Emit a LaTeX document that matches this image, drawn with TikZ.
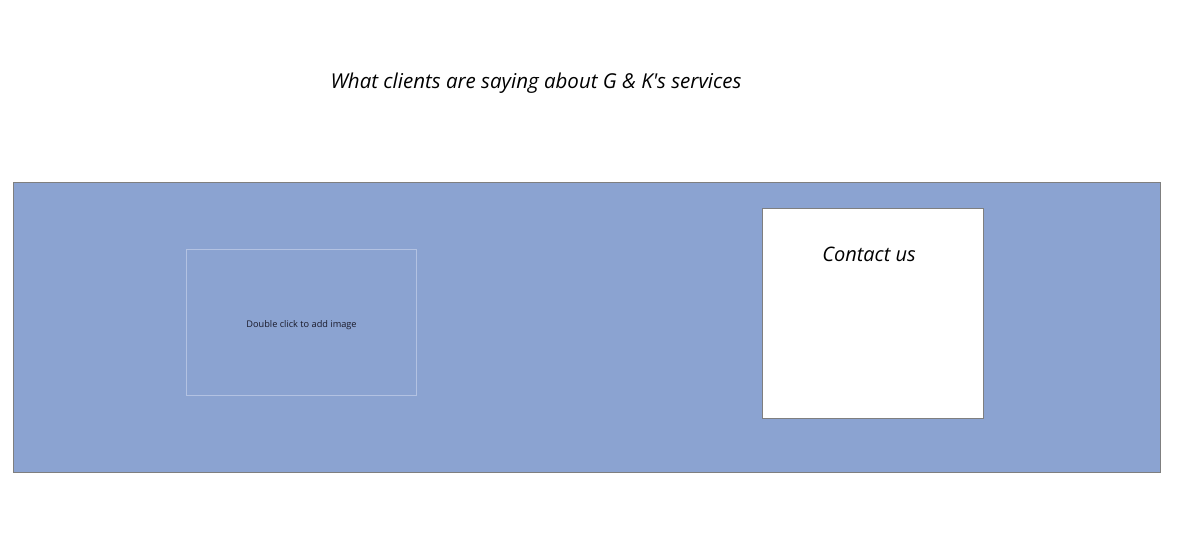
\documentclass[tikz,border=0pt]{standalone}
\usepackage{fontspec}
\newfontfamily\handfont{Open Sans}
\newfontfamily\uifont{Open Sans}
\definecolor{bandblue}{HTML}{8BA3D1}
\definecolor{edgegray}{HTML}{7F7F7F}
\definecolor{placeedge}{HTML}{B3C2E2}
\definecolor{uitext}{HTML}{1A1A2A}
\begin{document}
\begin{tikzpicture}[x=1pt,y=-1pt,
  band/.style={draw=edgegray,fill=bandblue,line width=0.6pt},
  placeholder/.style={draw=placeedge,line width=0.6pt},
  card/.style={draw=edgegray,fill=white,line width=0.6pt},
  hand/.style={font=\handfont\itshape,text=black,inner sep=0pt},
  ui/.style={font=\uifont\fontsize{9.2}{11}\selectfont,text=uitext,inner sep=0pt}]
\useasboundingbox (0,0) rectangle (1201,551);
\fill[white] (0,0) rectangle (1201,551);
\node[hand,font=\handfont\itshape\fontsize{20.5}{24}\selectfont] (title) at (536,83.5) {What clients are saying about G \& K's services};
\draw[band] (13,182) rectangle (1160,472);
\coordinate (bandc) at (586.5,327);
\draw[placeholder] (186,249) rectangle (416,395);
\node[ui] (ph) at (301.5,325) {Double click to add image};
\draw[card] (762,208) rectangle (983,418);
\node[hand,font=\handfont\itshape\fontsize{20}{24}\selectfont] (contact) at (869,254) {Contact us};
\end{tikzpicture}
\end{document}
